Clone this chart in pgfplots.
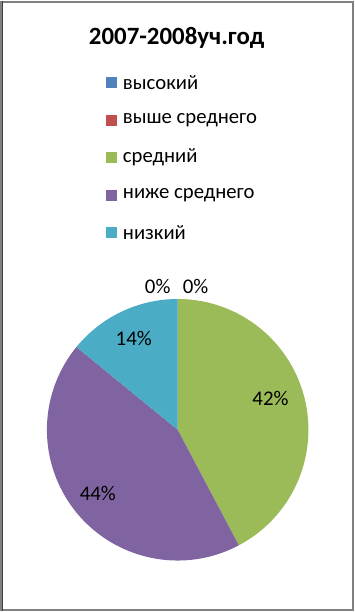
\documentclass[border=0pt]{standalone}
\usepackage{pgfplots}
\pgfplotsset{compat=1.18}
\usepackage{pgfplotstable}
\usepackage{fontspec}
\setmainfont{Carlito}
\definecolor{cBlue}{HTML}{4F81BD}
\definecolor{cRed}{HTML}{C0504D}
\definecolor{cGreen}{HTML}{9BBB59}
\definecolor{cPurple}{HTML}{8064A2}
\definecolor{cCyan}{HTML}{4BACC6}
\definecolor{cFrame}{HTML}{808080}
% values: высокий, выше среднего, средний, ниже среднего, низкий
\def\vA{0}\def\vB{0}\def\vC{30}\def\vD{31}\def\vE{10}
\begin{document}
\begin{tikzpicture}
\pgfmathsetmacro\tot{\vA+\vB+\vC+\vD+\vE}
\pgfmathsetmacro\sA{90}
\pgfmathsetmacro\sB{\sA-360*\vA/\tot}
\pgfmathsetmacro\sC{\sB-360*\vB/\tot}
\pgfmathsetmacro\sD{\sC-360*\vC/\tot}
\pgfmathsetmacro\sE{\sD-360*\vD/\tot}
\pgfmathsetmacro\sF{\sE-360*\vE/\tot}
\begin{axis}[x=1bp,y=1bp,xmin=0,xmax=355,ymin=0,ymax=612,hide axis,clip=false,
  anchor=origin, at={(0,0)}]
\draw[cFrame, line width=2bp] (axis cs:1,1) rectangle (axis cs:354,611);
\draw[black!75, line width=1.2bp] (axis cs:2.2,0) -- (axis cs:2.2,612);
\node[font=\bfseries\fontsize{25}{29}\selectfont] at (axis cs:177,575) {2007-2008уч.год};
% legend
\foreach \yy/\cc/\tt in {530/cBlue/высокий,492/cRed/выше среднего,455/cGreen/средний,417/cPurple/ниже среднего,380/cCyan/низкий}{
  \edef\tmp{\noexpand\fill[\cc] (axis cs:106,\yy-5.5) rectangle (axis cs:117,\yy+5.5);
  \noexpand\node[anchor=west,font=\noexpand\fontsize{20.8}{24}\noexpand\selectfont,inner sep=0pt] at (axis cs:123,\yy) {\tt};}
  \tmp
}
% pie
\fill[cBlue] (axis cs:178,182) -- ++(\sA:131bp) arc[start angle=\sA, end angle=\sB, radius=131bp] -- cycle;
\fill[cRed] (axis cs:178,182) -- ++(\sB:131bp) arc[start angle=\sB, end angle=\sC, radius=131bp] -- cycle;
\fill[cGreen] (axis cs:178,182) -- ++(\sC:131bp) arc[start angle=\sC, end angle=\sD, radius=131bp] -- cycle;
\fill[cPurple] (axis cs:178,182) -- ++(\sD:131bp) arc[start angle=\sD, end angle=\sE, radius=131bp] -- cycle;
\fill[cCyan] (axis cs:178,182) -- ++(\sE:131bp) arc[start angle=\sE, end angle=\sF, radius=131bp] -- cycle;
% labels
\node[font=\fontsize{21}{24}\selectfont] at (axis cs:271,213) {42\%};
\node[font=\fontsize{21}{24}\selectfont] at (axis cs:98,118) {44\%};
\node[font=\fontsize{21}{24}\selectfont] at (axis cs:134,273) {14\%};
\node[font=\fontsize{21}{24}\selectfont] at (axis cs:158,326) {0\%};
\node[font=\fontsize{21}{24}\selectfont] at (axis cs:196,326) {0\%};
\end{axis}
\end{tikzpicture}
\end{document}
